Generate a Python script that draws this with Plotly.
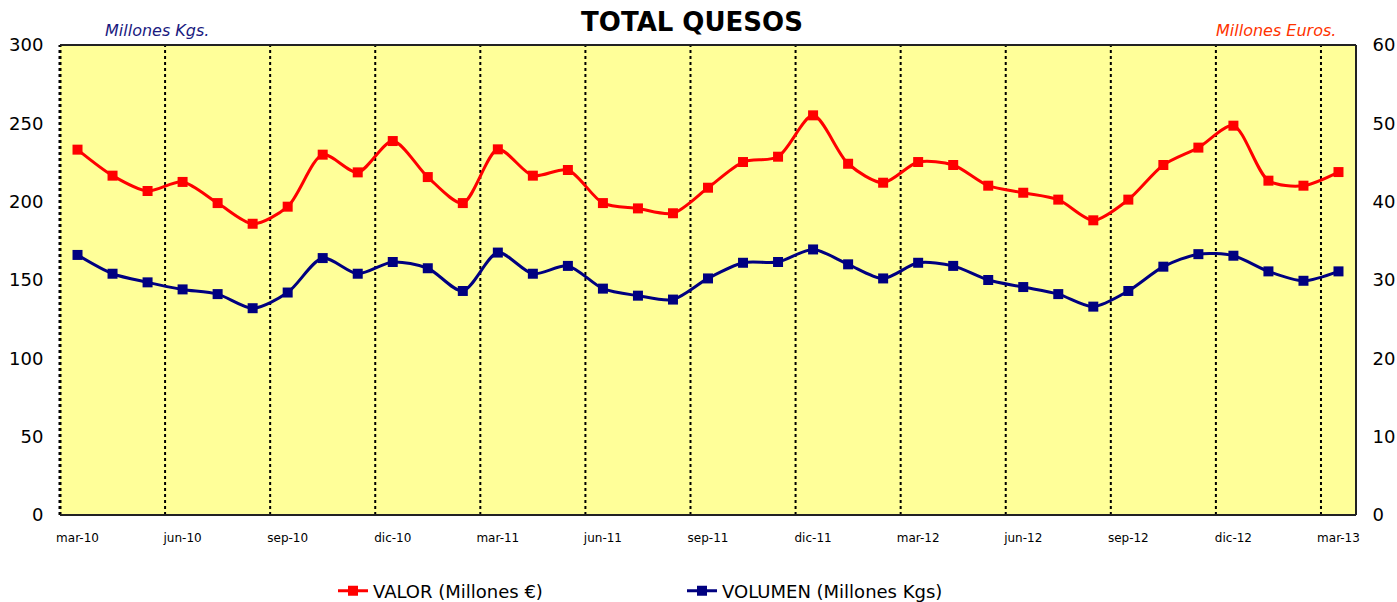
import plotly.graph_objects as go

meses = ["mar-10","abr-10","may-10","jun-10","jul-10","ago-10","sep-10","oct-10","nov-10","dic-10",
         "ene-11","feb-11","mar-11","abr-11","may-11","jun-11","jul-11","ago-11","sep-11","oct-11",
         "nov-11","dic-11","ene-12","feb-12","mar-12","abr-12","may-12","jun-12","jul-12","ago-12",
         "sep-12","oct-12","nov-12","dic-12","ene-13","feb-13","mar-13"]

valor = [233.2, 216.6, 206.8, 212.6, 199.1, 185.9, 196.8, 230.0, 218.7, 238.7,
         215.7, 199.1, 233.4, 216.6, 220.2, 199.1, 195.7, 192.6, 208.9, 225.3,
         228.7, 255.1, 224.2, 212.1, 225.3, 223.4, 210.2, 205.7, 201.3, 188.1,
         201.3, 223.4, 234.5, 248.5, 213.4, 210.2, 218.9]

volumen = [33.2, 30.8, 29.7, 28.8, 28.2, 26.4, 28.4, 32.8, 30.8, 32.3,
           31.5, 28.6, 33.5, 30.8, 31.8, 28.9, 28.0, 27.5, 30.2, 32.2,
           32.3, 33.9, 32.0, 30.2, 32.2, 31.8, 30.0, 29.1, 28.2, 26.6,
           28.6, 31.7, 33.3, 33.1, 31.1, 29.9, 31.1]

tick_step = 3
FONT = "DejaVu Sans"
W, H = 1397, 602

idx = list(range(len(meses)))
tickvals = idx[::tick_step]
ticktext = meses[::tick_step]

fig = go.Figure()
fig.add_trace(go.Scatter(
    x=idx, y=valor, name="VALOR (Millones €)", mode="lines+markers",
    line=dict(color="#FF0000", width=3, shape="spline", smoothing=0.8),
    marker=dict(symbol="square", size=10, color="#FF0000"),
    yaxis="y"))
fig.add_trace(go.Scatter(
    x=idx, y=volumen, name="VOLUMEN (Millones Kgs)", mode="lines+markers",
    line=dict(color="#000080", width=3, shape="spline", smoothing=0.8),
    marker=dict(symbol="square", size=10, color="#000080"),
    yaxis="y2"))

shapes = []
for k in range(tick_step, len(meses), tick_step):
    shapes.append(dict(type="line", xref="x", yref="paper", x0=k - 0.5, x1=k - 0.5, y0=0, y1=1,
                       line=dict(color="black", width=2, dash="3px,3px"), layer="below"))
shapes.append(dict(type="line", xref="paper", yref="paper", x0=0, x1=0, y0=0, y1=1,
                   line=dict(color="black", width=3, dash="3px,3px")))
shapes.append(dict(type="line", xref="paper", yref="paper", x0=0, x1=1, y0=1, y1=1,
                   line=dict(color="#222222", width=2)))
shapes.append(dict(type="line", xref="paper", yref="paper", x0=1, x1=1, y0=0, y1=1,
                   line=dict(color="#222222", width=2)))
shapes.append(dict(type="line", xref="paper", yref="paper", x0=0, x1=1, y0=0, y1=0,
                   line=dict(color="#222222", width=2)))

fig.update_layout(
    width=W, height=H,
    margin=dict(l=60, r=41, t=45, b=87),
    paper_bgcolor="white", plot_bgcolor="#FFFF99",
    font=dict(family=FONT, color="black"),
    title=dict(text="<b>TOTAL QUESOS</b>", x=692 / W, xanchor="center", y=1 - 22 / H, yanchor="middle",
               font=dict(family=FONT, size=26, color="black")),
    xaxis=dict(range=[-0.5, len(meses) - 0.5], tickvals=tickvals, ticktext=ticktext,
               showgrid=False, zeroline=False, tickfont=dict(size=12, color="black"),
               ticks="outside", ticklen=12, tickcolor="rgba(0,0,0,0)", showline=False, automargin=False),
    yaxis=dict(range=[0, 300], dtick=50, showgrid=False, zeroline=False,
               tickfont=dict(size=18, color="black"), ticks="outside", ticklen=12,
               tickcolor="rgba(0,0,0,0)", showline=False, automargin=False),
    yaxis2=dict(range=[0, 60], dtick=10, overlaying="y", side="right", showgrid=False,
                zeroline=False, tickfont=dict(size=18, color="black"), ticks="outside", ticklen=12,
                tickcolor="rgba(0,0,0,0)", showline=False, automargin=False),
    shapes=shapes,
    showlegend=True,
    legend=dict(orientation="h", xref="container", yref="container", x=333 / W, xanchor="left",
                y=11 / H, yanchor="middle",
                font=dict(size=18, color="black"), entrywidth=304, bgcolor="rgba(0,0,0,0)"),
    annotations=[
        dict(text="<i>Millones Kgs.</i>", xref="paper", yref="paper", x=43 / 1296, y=1, xanchor="left",
             yanchor="bottom", yshift=3, showarrow=False, font=dict(size=16, color="#1A1A80")),
        dict(text="<i>Millones Euros.</i>", xref="paper", yref="paper", x=1, y=1, xanchor="right",
             yanchor="bottom", xshift=-18, yshift=3, showarrow=False, font=dict(size=16, color="#FF3300")),
    ],
)

fig.write_html("out.html", config={"displayModeBar": False},
               post_script="document.body.style.margin='0px'; document.body.style.overflow='hidden';")
